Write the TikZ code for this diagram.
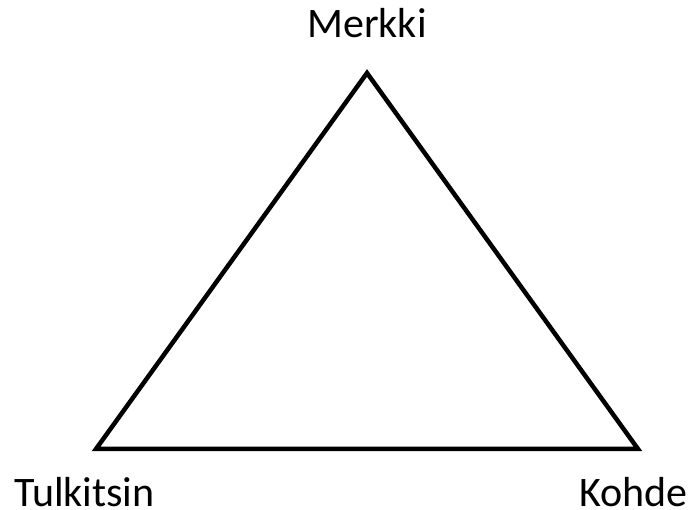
\documentclass[tikz,border=0pt]{standalone}
\usepackage{fontspec}
\setmainfont{Carlito}
\usetikzlibrary{positioning}

\begin{document}
\begin{tikzpicture}[
		x=1pt, y=-1pt,
		label/.style={
			inner sep=0pt,
			text depth=0pt,
			font=\fontsize{42}{50}\selectfont
		},
		edge/.style={
			line width=4.5pt
		}
		]
		
		\useasboundingbox (0,0) rectangle (691,510);
		
		% Kulmat
		\coordinate (merkki) at (367,73);
		\coordinate (tulkitsin) at (96,449);
		\coordinate (kohde) at (638,449);
		
		% Nimet
		\node[label, anchor=base] (merkkiteksti) at (367,38) {Merkki};
		\node[label, anchor=base west] (tulkitsinteksti) at (14,506) {Tulkitsin};
		\node[label, anchor=base east] (kohdeteksti) at (688,506) {Kohde};
		
		% Kolmio
		\draw[edge] (merkki) -- (kohde) -- (tulkitsin) -- cycle;
		
	\end{tikzpicture}
\end{document}
